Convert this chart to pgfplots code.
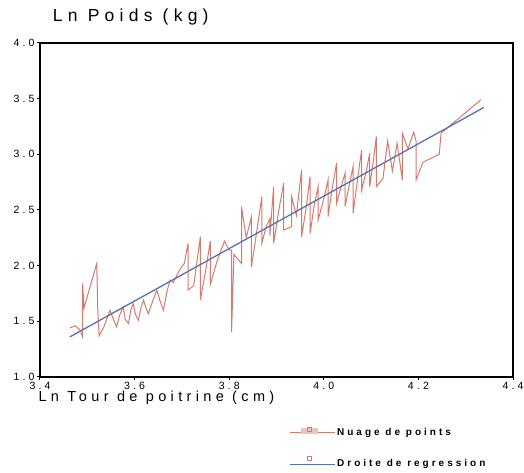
\documentclass[border=0pt]{standalone}
\usepackage{fontspec}
\setmainfont{Liberation Sans}
\newfontfamily\spaced[LetterSpace=30]{Liberation Sans}
\usepackage{pgfplots}
\pgfplotsset{compat=1.18}
\definecolor{nuage}{HTML}{D67A6E}
\definecolor{droite}{HTML}{5572AE}
\begin{document}
\begin{tikzpicture}
\path[use as bounding box] (-40pt,-96pt) rectangle (484pt,377pt);
\begin{axis}[scale only axis, width=473pt, height=334pt,
  xmin=3.4, xmax=4.4, ymin=1, ymax=4,
  xtick={3.4,3.6,...,4.4}, ytick={1,1.5,...,4},
  xtick pos=bottom, ytick pos=left, tick align=outside,
  major tick length=3pt, tick style={black, line width=1pt},
  axis line style={black, line width=1.1pt},
  /pgf/number format/assume math mode=true,
  /pgf/number format/fixed, /pgf/number format/fixed zerofill, /pgf/number format/precision=1,
  tick label style={font=\fontsize{10.5}{12}\selectfont\spaced},
  xticklabel style={yshift=1pt}, yticklabel style={xshift=1pt},
  title={Ln Poids (kg)},
  title style={font=\fontsize{17.5}{20}\selectfont\spaced, at={(rel axis cs:0.02,1)}, anchor=base west, yshift=15pt},
  legend style={font=\fontsize{10}{11}\selectfont\spaced\bfseries, draw=none, fill=none,
    at={(rel axis cs:0.52,-0.14)}, anchor=north west, row sep=17pt,
    /tikz/every even column/.append style={column sep=3pt}},
  legend cell align=left]
\addplot[color=nuage, line width=1pt, mark=none,
  legend image code/.code={\draw[nuage, line width=1pt] (0pt,0pt) -- (45pt,0pt);
    \fill[nuage!45] (12pt,-1pt) rectangle (28pt,4pt);
    \draw[nuage, line width=0.6pt] (18pt,1pt) rectangle (22pt,5pt);}] coordinates {
(3.463,1.44) (3.475,1.46) (3.485,1.42) (3.490,1.36) (3.490,1.84) (3.493,1.62) (3.520,2.02) (3.522,1.62)
(3.525,1.37) (3.535,1.45) (3.548,1.60) (3.555,1.52) (3.562,1.45) (3.568,1.55) (3.576,1.63) (3.580,1.52)
(3.587,1.48) (3.592,1.60) (3.597,1.66) (3.602,1.56) (3.608,1.51) (3.614,1.63) (3.619,1.69) (3.624,1.62)
(3.629,1.57) (3.638,1.68) (3.647,1.78) (3.654,1.68) (3.661,1.60) (3.668,1.76) (3.675,1.87) (3.682,1.85)
(3.690,1.92) (3.698,1.98) (3.705,2.02) (3.713,2.20) (3.713,1.78) (3.725,1.82) (3.739,2.26) (3.739,1.69)
(3.750,1.95) (3.760,2.22) (3.760,1.83) (3.775,2.05) (3.790,2.22) (3.800,2.14) (3.805,2.14) (3.805,1.40)
(3.810,2.10) (3.826,2.02) (3.826,2.53) (3.836,2.25) (3.847,2.44) (3.847,1.99) (3.858,2.30) (3.869,2.62)
(3.869,2.20) (3.878,2.35) (3.886,2.42) (3.886,2.27) (3.894,2.71) (3.894,2.20) (3.905,2.50) (3.915,2.74)
(3.915,2.32) (3.932,2.35) (3.932,2.62) (3.942,2.45) (3.953,2.86) (3.953,2.26) (3.962,2.50) (3.971,2.80)
(3.971,2.29) (3.980,2.55) (3.988,2.71) (3.988,2.41) (4.000,2.60) (4.009,2.77) (4.009,2.44) (4.018,2.70)
(4.027,2.92) (4.027,2.56) (4.036,2.70) (4.045,2.83) (4.045,2.53) (4.055,2.75) (4.062,2.89) (4.062,2.47)
(4.072,2.80) (4.080,3.04) (4.080,2.68) (4.090,2.85) (4.097,3.01) (4.097,2.71) (4.105,2.95) (4.111,3.16)
(4.111,2.71) (4.125,2.78) (4.135,3.12) (4.145,2.85) (4.155,3.10) (4.166,2.77) (4.166,3.19) (4.178,3.05)
(4.190,3.20) (4.195,3.12) (4.195,2.77) (4.210,2.93) (4.244,3.00) (4.248,3.19) (4.332,3.49)};
\addlegendentry{Nuage de points}
\addplot[color=droite, line width=1.3pt, mark=none,
  legend image code/.code={\draw[droite, line width=1pt] (0pt,0pt) -- (45pt,0pt);
    \draw[nuage, line width=0.6pt] (18pt,4pt) rectangle (22pt,8pt);}] coordinates {(3.463,1.36) (4.338,3.42)};
\addlegendentry{Droite de regression}
\end{axis}
\node[font=\fontsize{14.5}{17}\selectfont\spaced, anchor=base west] at (-5pt,-25pt) {Ln Tour de poitrine (cm)};
\end{tikzpicture}
\end{document}
